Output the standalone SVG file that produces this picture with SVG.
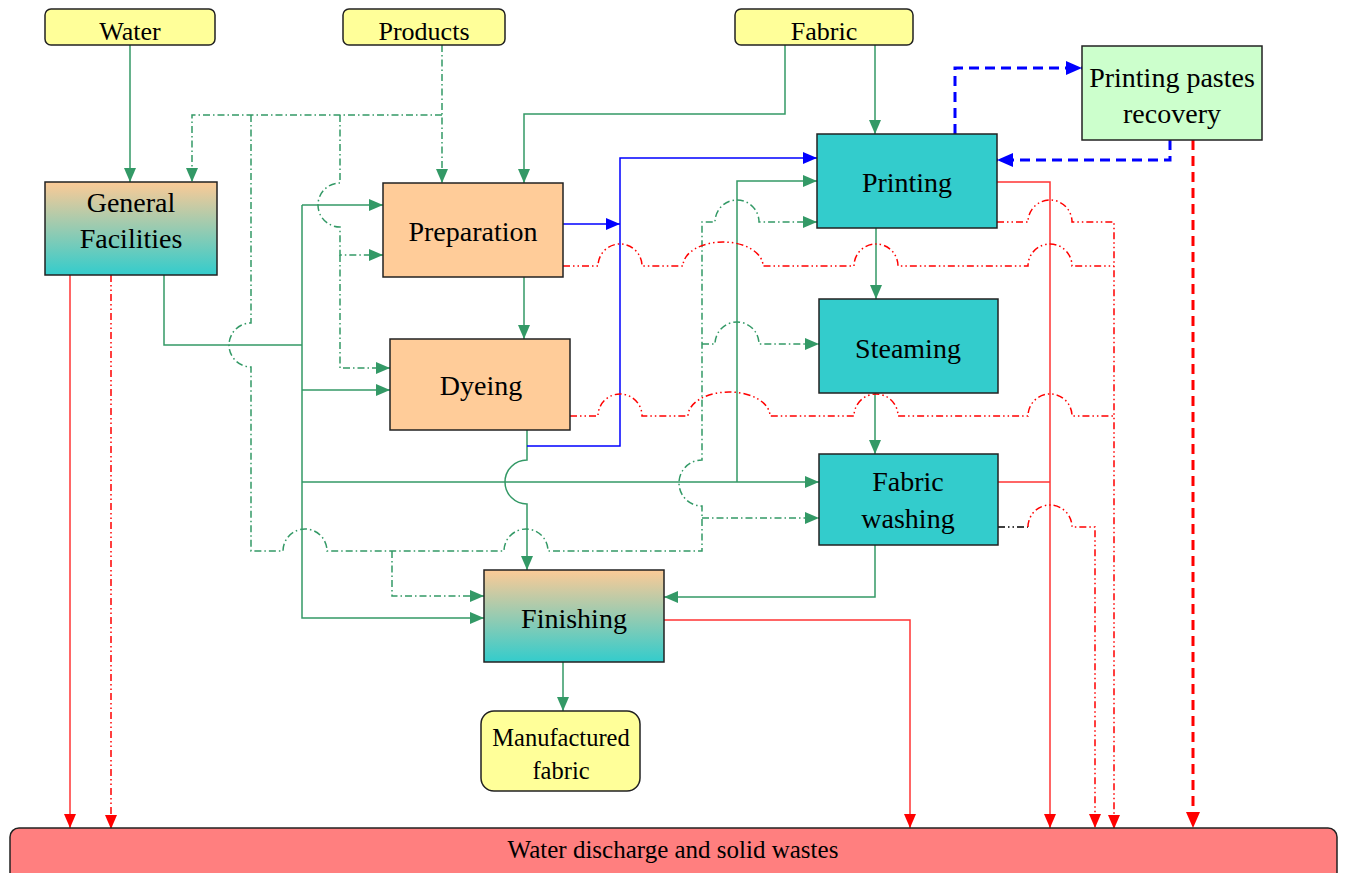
<svg xmlns="http://www.w3.org/2000/svg" width="1345" height="873" viewBox="0 0 1345 873">
<defs>
<linearGradient id="grad" x1="0" y1="0" x2="0" y2="1">
<stop offset="0" stop-color="#FCCA96"/>
<stop offset="1" stop-color="#33CCCC"/>
</linearGradient>
<marker id="ag" viewBox="0 0 14 12" refX="14" refY="6" markerWidth="14" markerHeight="12" markerUnits="userSpaceOnUse" orient="auto"><path d="M0,0 L14,6 L0,12 z" style="fill:#339966;stroke:none"/></marker>
<marker id="ab" viewBox="0 0 14 12" refX="14" refY="6" markerWidth="14" markerHeight="12" markerUnits="userSpaceOnUse" orient="auto"><path d="M0,0 L14,6 L0,12 z" style="fill:#0000FF;stroke:none"/></marker>
<marker id="abb" viewBox="0 0 16 14" refX="16" refY="7" markerWidth="16" markerHeight="14" markerUnits="userSpaceOnUse" orient="auto"><path d="M0,0 L16,7 L0,14 z" style="fill:#0000FF;stroke:none"/></marker>
<marker id="ar" viewBox="0 0 14 12" refX="14" refY="6" markerWidth="14" markerHeight="12" markerUnits="userSpaceOnUse" orient="auto"><path d="M0,0 L14,6 L0,12 z" style="fill:#FF0000;stroke:none"/></marker>
<marker id="arb" viewBox="0 0 16 14" refX="16" refY="7" markerWidth="16" markerHeight="14" markerUnits="userSpaceOnUse" orient="auto"><path d="M0,0 L16,7 L0,14 z" style="fill:#FF0000;stroke:none"/></marker>
</defs>
<style>
.box{stroke:#222;stroke-width:1.5}
.in{fill:#FFFF99}
.pe{fill:#FFCC99}
.cy{fill:#33CCCC}
.gr{fill:url(#grad)}
.t{font-family:"Liberation Serif","Times New Roman",serif;fill:#000;text-anchor:middle}
.t27{font-size:28px}
.t24{font-size:26px}
.tm{font-size:24.5px}
.t25{font-size:25px}
#connectors path{fill:none}
.gs{stroke:#339966;stroke-width:1.5}
.gd{stroke:#339966;stroke-width:1.5;stroke-dasharray:7 3 1.5 3}
.bs{stroke:#0000FF;stroke-width:1.5}
.bd{stroke:#0000FF;stroke-width:3;stroke-dasharray:10 6}
.rs{stroke:#FF3333;stroke-width:1.5}
.rd{stroke:#FF0000;stroke-width:1.5;stroke-dasharray:7 3 1.5 3 1.5 3}
.rdb{stroke:#FF0000;stroke-width:3;stroke-dasharray:10 6}
.kd{stroke:#000;stroke-width:1.5;stroke-dasharray:7 3 1.5 3 1.5 3}
</style>

<g id="connectors">
<!-- green solid -->
<path class="gs" d="M130,45 V182" marker-end="url(#ag)"/>
<path class="gs" d="M164,275 V345 H302"/>
<path class="gs" d="M302,205 H383" marker-end="url(#ag)"/>
<path class="gs" d="M302,205 V618 H484" marker-end="url(#ag)"/>
<path class="gs" d="M302,390 H390" marker-end="url(#ag)"/>
<path class="gs" d="M302,482 H819" marker-end="url(#ag)"/>
<path class="gs" d="M737,482 V181 H817" marker-end="url(#ag)"/>
<path class="gs" d="M785,45 V114 H524 V183" marker-end="url(#ag)"/>
<path class="gs" d="M875,45 V134" marker-end="url(#ag)"/>
<path class="gs" d="M524,277 V339" marker-end="url(#ag)"/>
<path class="gs" d="M527,430 V460 A22,22 0 0 0 527,504 V570" marker-end="url(#ag)"/>
<path class="gs" d="M876,228 V299" marker-end="url(#ag)"/>
<path class="gs" d="M875,393 V454" marker-end="url(#ag)"/>
<path class="gs" d="M875,545 V597 H664" marker-end="url(#ag)"/>
<path class="gs" d="M563,662 V711" marker-end="url(#ag)"/>
<!-- green dash-dot (products) -->
<path class="gd" d="M442,45 V183" marker-end="url(#ag)"/>
<path class="gd" d="M442,115 H192 V182" marker-end="url(#ag)"/>
<path class="gd" d="M340,115 V183 A22,22 0 0 0 340,227 V255 H383" marker-end="url(#ag)"/>
<path class="gd" d="M340,255 V368 H390" marker-end="url(#ag)"/>
<path class="gd" d="M251,115 V323 A22,22 0 0 0 251,367 V551 H283 A22,22 0 0 1 327,551 H504 A22,22 0 0 1 548,551 H702 V506 A23,23 0 0 1 702,460 V222 H715 A22,22 0 0 1 759,222 H817" marker-end="url(#ag)"/>
<path class="gd" d="M392,551 V596 H484" marker-end="url(#ag)"/>
<path class="gd" d="M702,518 H819" marker-end="url(#ag)"/>
<path class="gd" d="M702,344 H715 A22,22 0 0 1 759,344 H819" marker-end="url(#ag)"/>
<!-- blue -->
<path class="bs" d="M563,224 H620" marker-end="url(#ab)"/>
<path class="bs" d="M527,446 H620 V158 H817" marker-end="url(#ab)"/>
<path class="bd" d="M955,134 V68 H1082" marker-end="url(#abb)"/>
<path class="bd" d="M1170,140 V160 H997" marker-end="url(#abb)"/>
<!-- red solid -->
<path class="rs" d="M70,275 V828" marker-end="url(#ar)"/>
<path class="rs" d="M664,620 H910 V828" marker-end="url(#ar)"/>
<path class="rs" d="M997,182 H1050 V828" marker-end="url(#ar)"/>
<path class="rs" d="M998,482 H1050"/>
<!-- red dash-dot-dot -->
<path class="rd" d="M111,275 V829" marker-end="url(#ar)"/>
<path class="rd" d="M563,266 H598 A22,22 0 0 1 642,266 H683 A40,24 0 0 1 763,266 H854 A22,22 0 0 1 898,266 H1028 A22,22 0 0 1 1072,266 H1114"/>
<path class="rd" d="M997,222 H1028 A22,22 0 0 1 1072,222 H1114 V829" marker-end="url(#ar)"/>
<path class="rd" d="M570,416 H598 A22,22 0 0 1 642,416 H688 A41,24 0 0 1 770,416 H854 A22,22 0 0 1 898,416 H1028 A22,22 0 0 1 1072,416 H1114"/>
<path class="kd" d="M998,527 H1028"/>
<path class="rd" d="M1028,527 A22,22 0 0 1 1072,527 H1095 V828" marker-end="url(#ar)"/>
<path class="rdb" d="M1193,140 V828" marker-end="url(#arb)"/>
</g>

<g id="water"><rect class="box in" x="45" y="9" width="170" height="36" rx="6"/><text class="t t24" x="130" y="40">Water</text></g>
<g id="products"><rect class="box in" x="343" y="9" width="162" height="36" rx="6"/><text class="t t24" x="424" y="40">Products</text></g>
<g id="fabric"><rect class="box in" x="735" y="9" width="178" height="36" rx="6"/><text class="t t24" x="824" y="40">Fabric</text></g>
<g id="general-facilities"><rect class="box gr" x="45" y="182" width="172" height="93"/><text class="t t27" x="131" y="212">General</text><text class="t t27" x="131" y="248">Facilities</text></g>
<g id="preparation"><rect class="box pe" x="383" y="183" width="180" height="94"/><text class="t t27" x="473" y="241">Preparation</text></g>
<g id="dyeing"><rect class="box pe" x="390" y="339" width="180" height="91"/><text class="t t27" x="481" y="395">Dyeing</text></g>
<g id="printing"><rect class="box cy" x="817" y="134" width="180" height="94"/><text class="t t27" x="907" y="192">Printing</text></g>
<g id="steaming"><rect class="box cy" x="819" y="299" width="179" height="94"/><text class="t t27" x="908" y="358">Steaming</text></g>
<g id="fabric-washing"><rect class="box cy" x="819" y="454" width="179" height="91"/><text class="t t27" x="908" y="491">Fabric</text><text class="t t27" x="908" y="528">washing</text></g>
<g id="finishing"><rect class="box gr" x="484" y="570" width="180" height="92"/><text class="t t27" x="574" y="628">Finishing</text></g>
<g id="manufactured-fabric"><rect class="box in" x="481" y="711" width="159" height="80" rx="13"/><text class="t tm" x="561" y="746">Manufactured</text><text class="t tm" x="561" y="779">fabric</text></g>
<g id="printing-pastes-recovery"><rect class="box" fill="#CCFFCC" x="1082" y="46" width="180" height="94"/><text class="t t27" x="1172" y="87">Printing pastes</text><text class="t t27" x="1172" y="123">recovery</text></g>
<g id="water-discharge"><rect class="box" fill="#FF7F7F" x="10" y="828" width="1327" height="60" rx="9"/><text class="t t25" x="673" y="858">Water discharge and solid wastes</text></g>
</svg>
